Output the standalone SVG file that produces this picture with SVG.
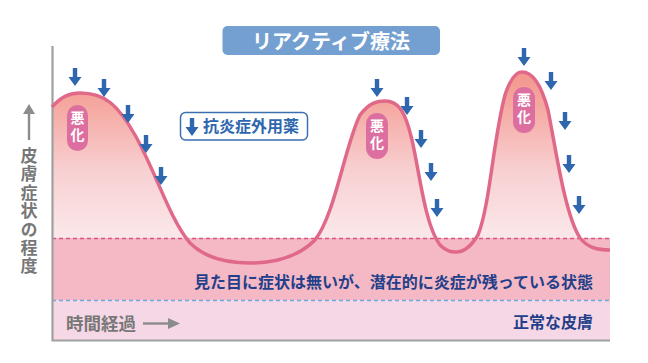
<svg xmlns="http://www.w3.org/2000/svg" width="648" height="363" viewBox="0 0 648 363">
<style>
.jp{font-family:"Noto Sans CJK JP","Noto Sans CJK SC",sans-serif;font-weight:700}
.gray{fill:#777777}
.navy{fill:#233f8a}
.blue{fill:#2e67ad}
.pill{fill:#dc6fa0}
.vt{writing-mode:vertical-rl;text-orientation:upright}
.pt{fill:#ffffff;font-size:14px;letter-spacing:3px}
</style>
<defs>
<linearGradient id="g" gradientUnits="userSpaceOnUse" x1="0" y1="72" x2="0" y2="238">
<stop offset="0" stop-color="#f3968c"/>
<stop offset="0.2" stop-color="#f5a8a0"/>
<stop offset="0.6" stop-color="#f8d0d2"/>
<stop offset="1" stop-color="#fbe8ea"/>
</linearGradient>
<clipPath id="c"><rect x="52" y="0" width="558" height="238"/></clipPath>
<path id="arr" d="M-2.2,-18 h4.4 v9 h4.3 l-6.5,9 l-6.5,-9 h4.3 z"/>
</defs>
<rect width="648" height="363" fill="#ffffff"/>
<g id="chart-area">
<path clip-path="url(#c)" fill="url(#g)" d="M52,107 C62,96 70,93 80,93 C105,93 118,105 135,135 C155,170 170,220 190,243 C205,258 225,263 250,263 C280,263 300,255 315,240 C335,215 345,145 360,115 C370,102 378,101 385,101 C398,101 405,110 412,140 C420,175 425,225 440,245 C447,252 452,252 456,252 C465,252 472,245 478,235 C490,205 493,140 505,95 C510,80 515,72 522,72 C530,72 540,80 548,110 C556,150 565,215 580,238 C588,248 598,250 610,250 L610,240 L52,240 Z"/>
<rect x="52" y="238" width="558" height="62" fill="#f5b9c5"/>
<rect x="52" y="300" width="558" height="40" fill="#f6d7e6"/>
<line x1="52" y1="238.5" x2="610" y2="238.5" stroke="#d9557f" stroke-width="1.3" stroke-dasharray="4 3"/>
<line x1="52" y1="300.5" x2="610" y2="300.5" stroke="#6fa6e0" stroke-width="1.3" stroke-dasharray="4 3"/>
<path d="M52.5,46 V340.5 H610" fill="none" stroke="#a0a0a0" stroke-width="2.2"/>
</g>
<g id="connectors">
<path id="curve" fill="none" stroke="#e0698a" stroke-width="3.5" d="M52,107 C62,96 70,93 80,93 C105,93 118,105 135,135 C155,170 170,220 190,243 C205,258 225,263 250,263 C280,263 300,255 315,240 C335,215 345,145 360,115 C370,102 378,101 385,101 C398,101 405,110 412,140 C420,175 425,225 440,245 C447,252 452,252 456,252 C465,252 472,245 478,235 C490,205 493,140 505,95 C510,80 515,72 522,72 C530,72 540,80 548,110 C556,150 565,215 580,238 C588,248 598,250 610,250"/>
<path d="M29,140 V112" stroke="#8c8c8c" stroke-width="2.4"/>
<path d="M23,114 L29,104 L35,114 Z" fill="#8c8c8c"/>
<path d="M143,323.5 H170" stroke="#8c8c8c" stroke-width="2.4"/>
<path d="M168,318 L180,323.5 L168,329 Z" fill="#8c8c8c"/>
</g>
<g id="arrows" class="blue">
<use href="#arr" x="75" y="86"/>
<use href="#arr" x="104" y="97"/>
<use href="#arr" x="128" y="123"/>
<use href="#arr" x="146" y="153"/>
<use href="#arr" x="161" y="185"/>
<use href="#arr" x="377" y="97"/>
<use href="#arr" x="407" y="115"/>
<use href="#arr" x="421" y="148"/>
<use href="#arr" x="431" y="181"/>
<use href="#arr" x="437" y="217"/>
<use href="#arr" x="524" y="66"/>
<use href="#arr" x="551" y="90"/>
<use href="#arr" x="565" y="130"/>
<use href="#arr" x="569" y="173"/>
<use href="#arr" x="579" y="214"/>
</g>
<g id="pill1">
<rect class="pill" x="67" y="105" width="21" height="46" rx="10.5"/>
<text class="jp pt vt" x="77.5" y="111">悪化</text>
</g>
<g id="pill2">
<rect class="pill" x="366" y="113" width="22" height="46" rx="11"/>
<text class="jp pt vt" x="377" y="119">悪化</text>
</g>
<g id="pill3">
<rect class="pill" x="513" y="87" width="22" height="46" rx="11"/>
<text class="jp pt vt" x="524" y="93">悪化</text>
</g>
<g id="title">
<rect x="222.5" y="26" width="217.5" height="29" rx="5" fill="#74a0d1"/>
<text class="jp" x="331" y="48.5" font-size="20" fill="#ffffff" text-anchor="middle">リアクティブ療法</text>
</g>
<g id="legend">
<rect x="180.5" y="112.5" width="127" height="27.5" rx="5" fill="#ffffff" stroke="#3a6fb0" stroke-width="1.5"/>
<use href="#arr" x="192" y="136" class="blue"/>
<text class="jp blue" x="203" y="132" font-size="16">抗炎症外用薬</text>
</g>
<g id="y-label">
<text class="jp gray vt" x="29" y="147" font-size="17" letter-spacing="1.4">皮膚症状の程度</text>
</g>
<g id="x-label">
<text class="jp gray" x="66" y="330" font-size="17.5">時間経過</text>
</g>
<g id="band-labels">
<text class="jp navy" x="593" y="288" font-size="16" text-anchor="end">見た目に症状は無いが、潜在的に炎症が残っている状態</text>
<text class="jp navy" x="593" y="328" font-size="16" text-anchor="end">正常な皮膚</text>
</g>
</svg>
